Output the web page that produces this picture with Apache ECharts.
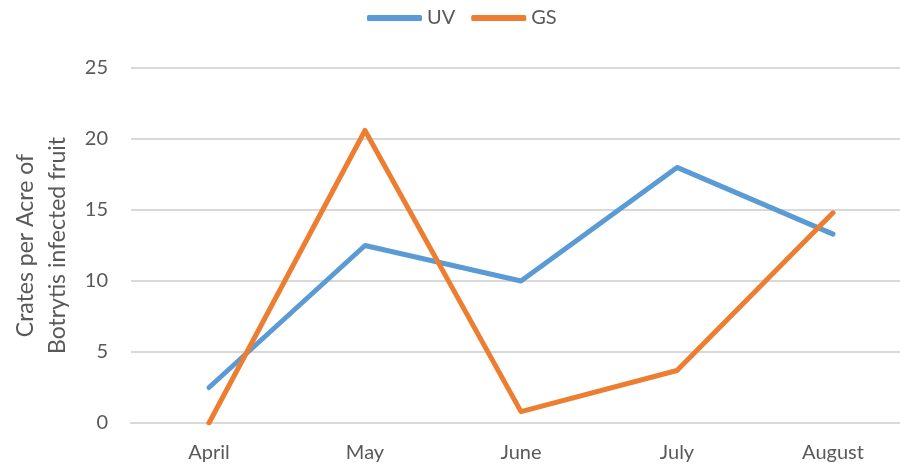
<!DOCTYPE html>
<html>
<head>
<meta charset="utf-8">
<script src="https://cdn.jsdelivr.net/npm/echarts@6/dist/echarts.min.js"></script>
<style>html,body{margin:0;padding:0;background:#fff;}#c{width:900px;height:469px;}</style>
</head>
<body>
<div id="c"></div>
<script>
var categories = ['April', 'May', 'June', 'July', 'August'];
var uvValues = [2.5, 12.5, 10.0, 18.0, 13.3];
var gsValues = [0.0, 20.6, 0.8, 3.7, 14.8];
var yTicks = [0, 5, 10, 15, 20, 25];

var chart = echarts.init(document.getElementById('c'));
var font = 'Lato, "Open Sans", sans-serif';
chart.setOption({
  animation: false,
  textStyle: { fontFamily: font },
  legend: {
    top: 3,
    left: 362,
    itemWidth: 55,
    itemHeight: 6,
    itemGap: 16,
    icon: 'roundRect',
    textStyle: { color: '#595959', fontSize: 20, fontFamily: font },
    data: ['UV', 'GS']
  },
  grid: { left: 131, top: 68, width: 780, height: 355, outerBoundsMode: 'none', containLabel: false },
  xAxis: {
    type: 'category',
    data: categories,
    boundaryGap: true,
    axisLine: { lineStyle: { color: '#d9d9d9', width: 2 } },
    axisTick: { show: false },
    axisLabel: { color: '#595959', fontSize: 20, margin: 20, fontFamily: font }
  },
  yAxis: {
    type: 'value',
    min: yTicks[0],
    max: yTicks[yTicks.length - 1],
    interval: 5,
    name: 'Crates per Acre of\nBotrytis infected fruit',
    nameLocation: 'middle',
    nameGap: 51,
    nameTextStyle: { color: '#595959', fontSize: 23, lineHeight: 32, fontFamily: font },
    axisLine: { show: false },
    axisTick: { show: false },
    axisLabel: { color: '#595959', fontSize: 20, margin: 23, fontFamily: font },
    splitLine: { lineStyle: { color: '#d9d9d9', width: 2 } }
  },
  series: [
    {
      name: 'UV', type: 'line', data: uvValues, symbol: 'none',
      itemStyle: { color: '#5B9BD5' },
      lineStyle: { color: '#5B9BD5', width: 5, cap: 'round', join: 'round' }
    },
    {
      name: 'GS', type: 'line', data: gsValues, symbol: 'none',
      itemStyle: { color: '#ED7D31' },
      lineStyle: { color: '#ED7D31', width: 5, cap: 'round', join: 'round' }
    }
  ]
});
</script>
</body>
</html>
